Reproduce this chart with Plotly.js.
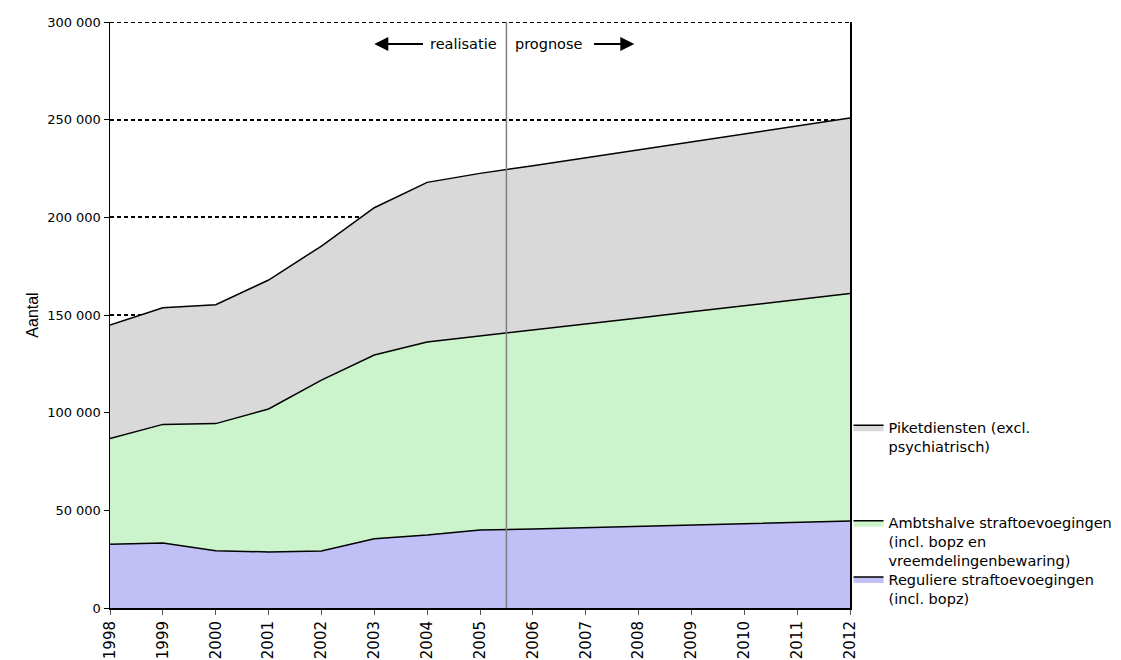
<!DOCTYPE html>
<html>
<head>
<meta charset="utf-8">
<script src="https://cdn.plot.ly/plotly-3.0.1.min.js"></script>
<style>html,body{margin:0;padding:0;background:#fff;}#chart{width:1121px;height:660px;}</style>
</head>
<body>
<div id="chart"></div>
<script>
const years = [1998,1999,2000,2001,2002,2003,2004,2005,2006,2007,2008,2009,2010,2011,2012];
const reguliere = [32600,33300,29300,28700,29200,35500,37400,39900,40400,41100,41800,42400,43000,43800,44500];
const ambtshalve = [54100,60700,65100,73200,87500,94000,98800,99300,101900,104300,106700,109200,111700,114000,116500];
const piket = [58200,59700,60900,66000,68600,75400,81700,83300,84100,85100,86000,87000,88000,88900,89800];
const yTicks = [0,50000,100000,150000,200000,250000,300000];
const names = [
  "Reguliere straftoevoegingen<br>(incl. bopz)",
  "Ambtshalve straftoevoegingen<br>(incl. bopz en<br>vreemdelingenbewaring)",
  "Piketdiensten (excl.<br>psychiatrisch)"
];
const splitYear = 2005.5;

const fills = ['#c0c0f6','#ccf4cc','#d9d9d9'];
const legendIds = ['legend3','legend2','legend'];
const series = [reguliere, ambtshalve, piket];
const traces = series.map((s,i)=>({
  x: years, y: s, name: names[i], type:'scatter', mode:'lines',
  stackgroup:'one', legend: legendIds[i],
  line:{color:'#000', width:1.5},
  fillcolor: fills[i]
}));

const F = 'DejaVu Sans, Liberation Sans, Arial, sans-serif';
const legBase = {x:0.998, xanchor:'left', yanchor:'middle', valign:'top',
  font:{size:14.5, family:F, color:'#000'}, itemwidth:30, bgcolor:'rgba(0,0,0,0)'};

const layout = {
  width:1121, height:660,
  margin:{l:110, r:271, t:22, b:52, autoexpand:false},
  paper_bgcolor:'#fff', plot_bgcolor:'#fff',
  font:{family:F, size:13, color:'#000'},
  separators:', ',
  showlegend:true,
  legend: Object.assign({}, legBase, {y:0.292}),
  legend2: Object.assign({}, legBase, {y:0.113}),
  legend3: Object.assign({}, legBase, {y:0.033}),
  xaxis:{range:[1998,2012], tickvals:years, ticktext:years.map(String), tickangle:-90,
         showline:true, linecolor:'#000', linewidth:2, ticks:'outside', ticklen:5,
         tickcolor:'#555', showgrid:false, zeroline:false, tickfont:{size:15, family:F},
         automargin:false},
  yaxis:{range:[0,300000], tickvals:yTicks, tickformat:',d', showline:true, mirror:true,
         linecolor:'#000', linewidth:1.5, ticks:'outside', ticklen:5, tickcolor:'#000',
         showgrid:true, gridcolor:'#000', gridwidth:2, griddash:'4px,3px', zeroline:false,
         automargin:false,
         title:{text:'Aantal', font:{size:16, family:'Liberation Sans, Arial, sans-serif'}, standoff:4},
         tickfont:{size:13, family:F}},
  shapes:[
    {type:'line', xref:'paper', yref:'y', x0:0, x1:1, y0:300000, y1:300000,
     line:{color:'#000', width:2, dash:'4px,3px'}, layer:'below'},
    {type:'line', xref:'x', yref:'paper', x0:splitYear, x1:splitYear, y0:0, y1:1,
     line:{color:'#808080', width:1.5}}
  ],
  annotations:[
    {x:splitYear, y:288700, xref:'x', yref:'y', text:'realisatie', showarrow:false,
     xanchor:'right', xshift:-7, font:{size:14.5, family:F}},
    {x:splitYear, y:288700, xref:'x', yref:'y', text:'prognose', showarrow:false,
     xanchor:'left', xshift:7, font:{size:14.5, family:F}},
    {x:2003.0, y:288700, ax:2003.95, ay:288700, xref:'x', yref:'y', axref:'x', ayref:'y',
     text:'', showarrow:true, arrowhead:2, arrowsize:1.4, arrowwidth:2, arrowcolor:'#000'},
    {x:2007.92, y:288700, ax:2007.13, ay:288700, xref:'x', yref:'y', axref:'x', ayref:'y',
     text:'', showarrow:true, arrowhead:2, arrowsize:1.4, arrowwidth:2, arrowcolor:'#000'}
  ]
};

Plotly.newPlot('chart', traces, layout, {displayModeBar:false, staticPlot:true});
</script>
</body>
</html>
